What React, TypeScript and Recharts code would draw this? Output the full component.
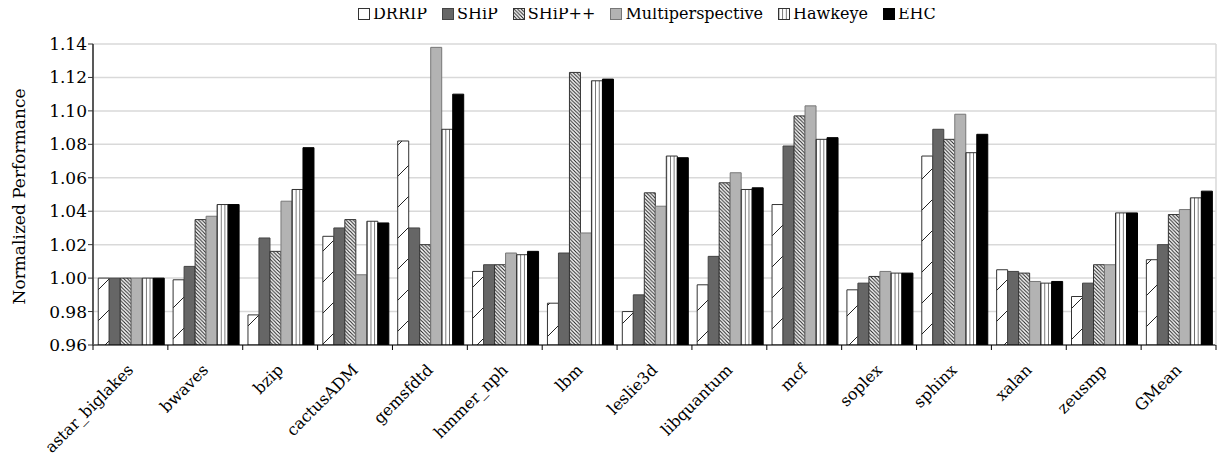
import React from "react";
import { Bar, BarChart, CartesianGrid, Legend, XAxis, YAxis } from "recharts";

const categories = [
	"astar_biglakes",
	"bwaves",
	"bzip",
	"cactusADM",
	"gemsfdtd",
	"hmmer_nph",
	"lbm",
	"leslie3d",
	"libquantum",
	"mcf",
	"soplex",
	"sphinx",
	"xalan",
	"zeusmp",
	"GMean",
];

const drrip = [1.0, 0.999, 0.978, 1.025, 1.082, 1.004, 0.985, 0.98, 0.996, 1.044, 0.993, 1.073, 1.005, 0.989, 1.011];
const ship = [1.0, 1.007, 1.024, 1.03, 1.03, 1.008, 1.015, 0.99, 1.013, 1.079, 0.997, 1.089, 1.004, 0.997, 1.02];
const shipPlus = [1.0, 1.035, 1.016, 1.035, 1.02, 1.008, 1.123, 1.051, 1.057, 1.097, 1.001, 1.083, 1.003, 1.008, 1.038];
const multi = [1.0, 1.037, 1.046, 1.002, 1.138, 1.015, 1.027, 1.043, 1.063, 1.103, 1.004, 1.098, 0.998, 1.008, 1.041];
const hawkeye = [1.0, 1.044, 1.053, 1.034, 1.089, 1.014, 1.118, 1.073, 1.053, 1.083, 1.003, 1.075, 0.997, 1.039, 1.048];
const ehc = [1.0, 1.044, 1.078, 1.033, 1.11, 1.016, 1.119, 1.072, 1.054, 1.084, 1.003, 1.086, 0.998, 1.039, 1.052];

const yTicks = [0.96, 0.98, 1.0, 1.02, 1.04, 1.06, 1.08, 1.1, 1.12, 1.14];

const FONT = "'DejaVu Serif', serif";
const CHART_W = 1217;
const CHART_H = 449;
const Y_AXIS_W = 85;
const MARGIN = { top: 20, right: 8, left: 0, bottom: 0 };
const PLOT_W = CHART_W - Y_AXIS_W - MARGIN.right - MARGIN.left - 1;

const SERIES = [
	{ key: "drrip", name: "DRRIP", fill: "url(#pDrrip)", stroke: "#333" },
	{ key: "ship", name: "SHiP", fill: "#666666", stroke: "#444" },
	{ key: "shipPlus", name: "SHiP++", fill: "url(#pShipPlus)", stroke: "#333" },
	{ key: "multi", name: "Multiperspective", fill: "#b3b3b3", stroke: "#777" },
	{ key: "hawkeye", name: "Hawkeye", fill: "url(#pHawkeye)", stroke: "#333" },
	{ key: "ehc", name: "EHC", fill: "#000000", stroke: "#000" },
];

const chartData = categories.map((name, i) => ({
	name,
	drrip: drrip[i],
	ship: ship[i],
	shipPlus: shipPlus[i],
	multi: multi[i],
	hawkeye: hawkeye[i],
	ehc: ehc[i],
}));

function Patterns() {
	return (
		<defs>
			<pattern id="pDrrip" patternUnits="userSpaceOnUse" width="31" height="31">
				<rect width="31" height="31" fill="#fff" />
				<line x1="0" y1="31" x2="31" y2="0" stroke="#222" strokeWidth="1" />
			</pattern>
			<pattern id="pShipPlus" patternUnits="userSpaceOnUse" width="3.6" height="3.6">
				<rect width="3.6" height="3.6" fill="#fff" />
				<path d="M0,0 L3.6,3.6 M-1,2.6 L1,4.6 M2.6,-1 L4.6,1" stroke="#222" strokeWidth="1.1" />
			</pattern>
			<pattern id="pHawkeye" patternUnits="objectBoundingBox" x="0" y="0" width="0.3333" height="1">
				<rect width="100" height="2000" fill="#fff" />
				<line x1="0" y1="0" x2="0" y2="2000" stroke="#222" strokeWidth="1.2" />
			</pattern>
		</defs>
	);
}

function XTick(props: any) {
	const { x, y, payload, index } = props;
	const band = PLOT_W / categories.length;
	const tx = x + 4;
	const ty = y + 26;
	return (
		<g>
			<line x1={x - band / 2} x2={x - band / 2} y1={y} y2={y + 5} stroke="#000" />
			{index === categories.length - 1 && <line x1={x + band / 2} x2={x + band / 2} y1={y} y2={y + 5} stroke="#000" />}
			<text x={tx} y={ty} textAnchor="end" transform={`rotate(-45 ${tx} ${ty})`} fontFamily={FONT} fontSize={16} fill="#000">
				{payload.value}
			</text>
		</g>
	);
}

function LegendContent() {
	return (
		<div style={{ display: "flex", gap: 15, height: 16, lineHeight: "16px", fontFamily: FONT, fontSize: 16, color: "#000" }}>
			{SERIES.map((s) => (
				<div key={s.key} style={{ display: "flex", alignItems: "center", gap: 3 }}>
					<svg width={12} height={12}>
						<rect x={0.5} y={0.5} width={11} height={11} fill={s.fill} stroke={s.stroke} />
					</svg>
					<span>{s.name}</span>
				</div>
			))}
		</div>
	);
}

function YLabel(props: any) {
	const vb = props.viewBox;
	const cy = vb.y + vb.height / 2 + 2;
	return (
		<text x={17} y={cy} transform={`rotate(-90 17 ${cy})`} textAnchor="middle" fontFamily={FONT} fontSize={17} fill="#000">
			Normalized Performance
		</text>
	);
}

export default function App() {
	return (
		<BarChart width={CHART_W} height={CHART_H} data={chartData} margin={MARGIN} barCategoryGap="7%" barGap={0}>
			<Patterns />
			<CartesianGrid vertical={false} stroke="#d9d9d9" strokeWidth={1.5} />
			<Legend
				verticalAlign="top"
				content={<LegendContent />}
				wrapperStyle={{ top: -2, left: 350, width: "auto" }}
			/>
			<XAxis
				dataKey="name"
				interval={0}
				height={112}
				tickSize={0}
				tickMargin={0}
				tickLine={false}
				axisLine={{ stroke: "#000", strokeWidth: 1 }}
				tick={<XTick />}
			/>
			<YAxis
				width={Y_AXIS_W}
				domain={[0.96, 1.14]}
				ticks={yTicks}
				allowDataOverflow
				tickFormatter={(v: number) => v.toFixed(2)}
				tickSize={5}
				tickMargin={1}
				tickLine={{ stroke: "#333" }}
				axisLine={{ stroke: "#595959", strokeWidth: 2 }}
				tick={{ fontFamily: FONT, fontSize: 17, fill: "#000" }}
				label={<YLabel />}
			/>
			<YAxis
				yAxisId="right"
				orientation="right"
				width={1}
				domain={[0.96, 1.14]}
				tick={false}
				tickLine={false}
				axisLine={{ stroke: "#d9d9d9", strokeWidth: 1.5 }}
			/>
			{SERIES.map((s) => (
				<Bar
					key={s.key}
					dataKey={s.key}
					name={s.name}
					fill={s.fill}
					stroke={s.stroke}
					strokeWidth={1}
					isAnimationActive={false}
				/>
			))}
		</BarChart>
	);
}
